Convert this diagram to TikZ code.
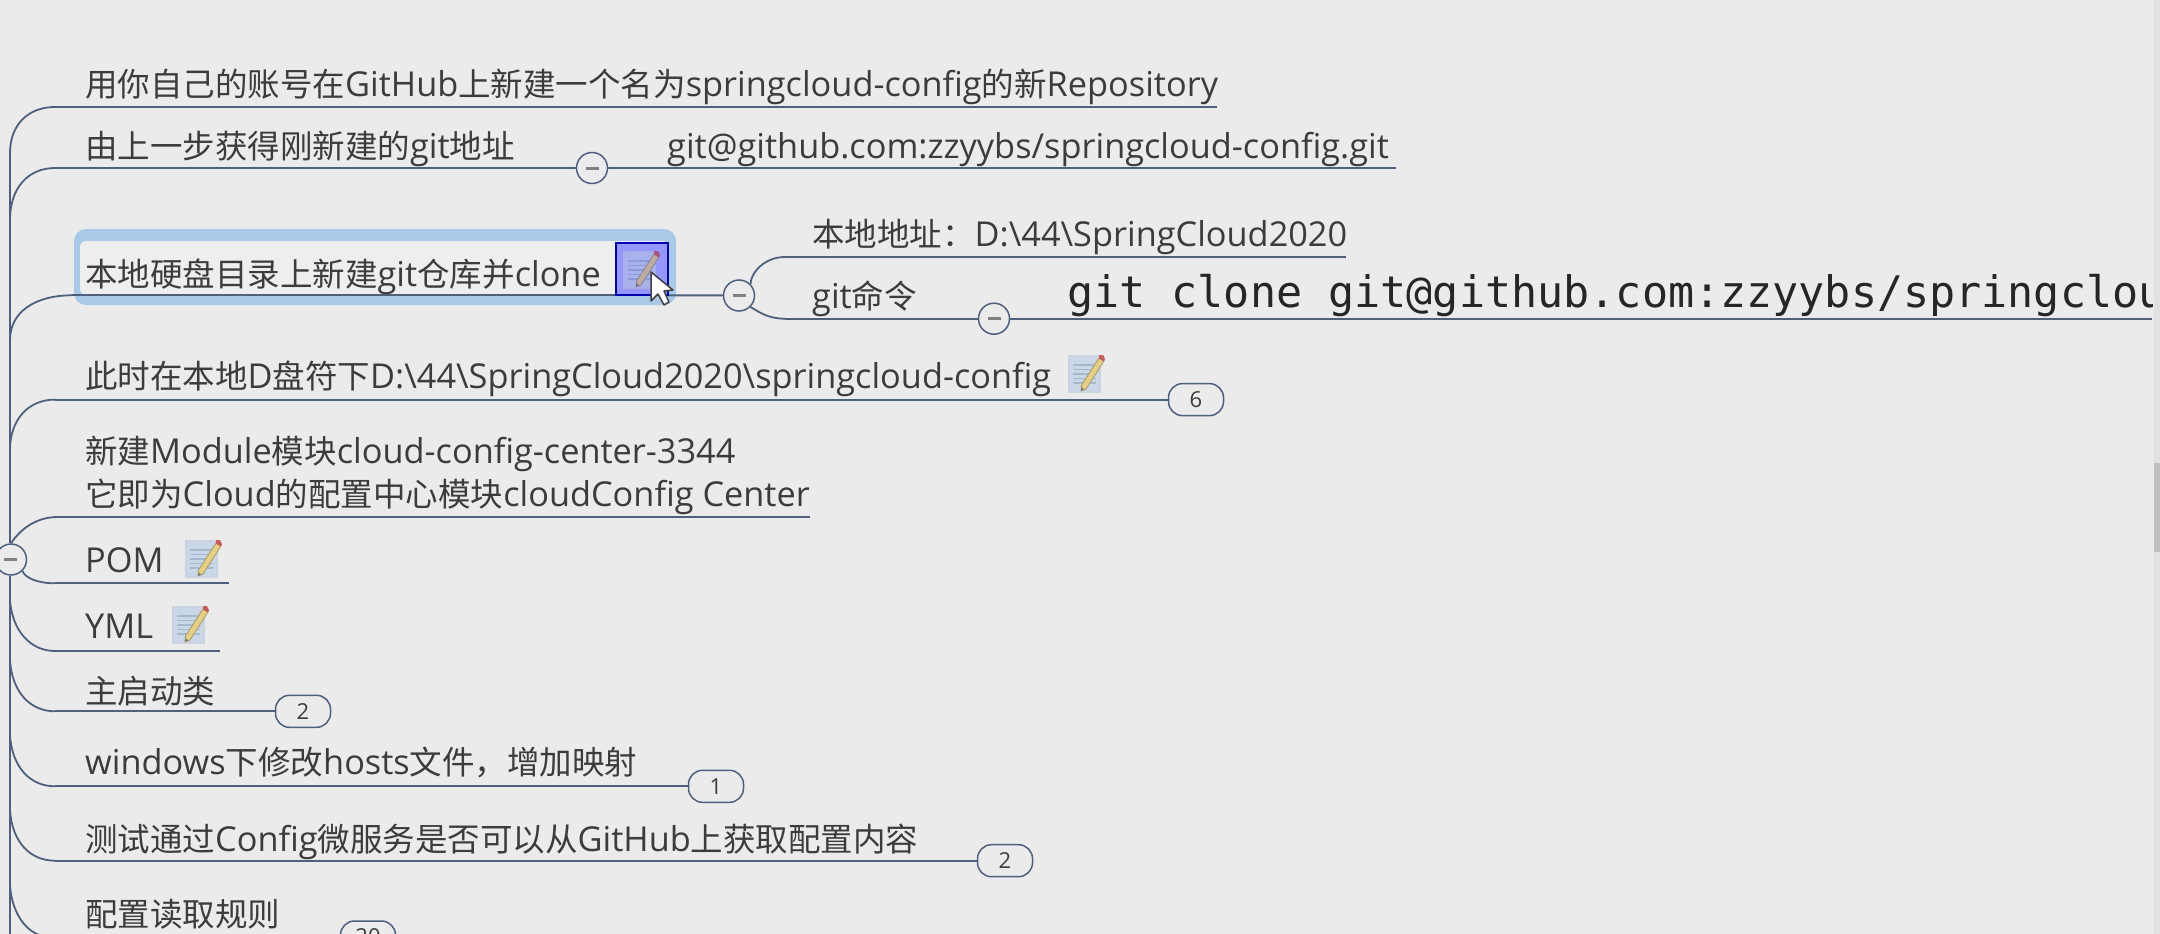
\documentclass[tikz,border=0pt]{standalone}
\usepackage{fontspec}
\setmainfont{Open Sans}
\newfontfamily\cjk[Scale=0.9475]{Noto Sans CJK SC}
\newfontfamily\mono{DejaVu Sans Mono}
\newcommand{\zh}[1]{{\cjk #1}}
\definecolor{bg}{HTML}{EBEBEB}
\definecolor{ln}{HTML}{4F5F7E}
\definecolor{tx}{HTML}{3C3C3C}
\definecolor{hl}{HTML}{A9C9E8}
\definecolor{paper}{HTML}{C9D7E8}
\definecolor{paperedge}{HTML}{CBD3DE}
\definecolor{rule}{HTML}{A6B8D0}
\definecolor{pencil}{HTML}{E4CF82}
\definecolor{penciledge}{HTML}{A89A68}
\definecolor{pencildark}{HTML}{8A8270}
\definecolor{tip}{HTML}{C85A5A}
\definecolor{track}{HTML}{E1E1E1}
\definecolor{thumb}{HTML}{BFBFBF}
\tikzset{
  topic/.style={anchor=base west,inner sep=0pt,text=tx,font=\fontsize{34.3}{41}\selectfont},
  link/.style={draw=ln,line width=2pt},
  fork/.style={draw=ln,line width=1.8pt},
  fold/.style={circle,draw=ln,fill=bg,line width=1.5pt,minimum size=31pt,inner sep=0pt},
  count/.style={draw=ln,fill=bg,line width=1.5pt,rounded corners=14pt,minimum width=55pt,minimum height=32pt,inner sep=0pt,text=tx,font=\fontsize{22}{22}\selectfont},
  note/.pic={
    \fill[paper] (0,2) rectangle (33,40);
    \draw[paperedge,line width=2.5pt] (1,3) rectangle (32,39);
    \foreach \yy in {12,16.5,21,25.5,30}{\draw[rule,line width=1.3pt] (5,\yy) -- (28,\yy);}
    \fill[pencil,draw=penciledge,line width=.8pt,line join=round] (31,5) -- (36,8) -- (18,36) -- (13,38) -- (13.5,32) -- cycle;
    \fill[pencildark] (13,38) -- (13.3,34) -- (16.5,36.5) -- cycle;
    \fill[tip] (31,2) -- (35,2) -- (37,6) -- (36,8.5) -- (31,5.5) -- cycle;
  },
}
\begin{document}
\begin{tikzpicture}[x=1pt,y=-1pt]
\useasboundingbox (0,0) rectangle (2160,934);
\clip (0,0) rectangle (2160,934);
\fill[bg] (0,0) rectangle (2160,934);

% selection highlight
\fill[hl,rounded corners=12pt] (74,229) rectangle (676,305);
\fill[bg!85!white,rounded corners=6pt] (80,241) rectangle (668,295);

% named junctions
\coordinate (t0) at (10,153);
\coordinate (t9) at (10,940);
\coordinate (a1) at (55,107); \coordinate (a2) at (55,168); \coordinate (a3) at (72,295.3);
\coordinate (a4) at (55,399.6); \coordinate (a5) at (58,517); \coordinate (a6) at (55,583.3);
\coordinate (a7) at (55,651); \coordinate (a8) at (55,711.3); \coordinate (a9) at (55,786.3);
\coordinate (a10) at (55,860.7); \coordinate (a11) at (50,937);
\coordinate (e1) at (1217,107); \coordinate (e2) at (1396,168); \coordinate (e3) at (668,295.3);
\coordinate (e4) at (1346,257); \coordinate (e5) at (2152,318.7);
\coordinate (e6) at (810,517); \coordinate (e7) at (229,583.3); \coordinate (e8) at (220,651);
\coordinate (s1) at (785,257); \coordinate (s2) at (785,318.7);

% fold and count nodes
\node[fold] (f0) at (11,559.5) {\textcolor{gray}{\rule{13pt}{3pt}}};
\node[fold] (f2) at (592,168) {\textcolor{gray}{\rule{13pt}{3pt}}};
\node[fold] (f3) at (739,295.5) {\textcolor{gray}{\rule{13pt}{3pt}}};
\node[fold] (f4) at (994,318.7) {\textcolor{gray}{\rule{13pt}{3pt}}};
\node[count] (c4) at (1196,399.6) {6};
\node[count] (c8) at (303,711.3) {2};
\node[count] (c9) at (716,786.3) {1};
\node[count] (c10) at (1005,860.7) {2};
\node[count] (c11) at (368,937) {20};

% connectors
\draw[fork] (t0) -- (f0.north -| t0);
\draw[fork] (f0.south -| t0) -- (t9);
\draw[fork] (10,153) .. controls (10,125) and (28,107) .. (a1);
\draw[fork] (10,220) .. controls (10,188) and (28,168) .. (a2);
\draw[fork] (10,340) .. controls (10,312) and (35,295.3) .. (a3);
\draw[fork] (10,450) .. controls (10,420) and (28,399.6) .. (a4);
\draw[fork] (f0.north) .. controls (20,530) and (35,517) .. (a5);
\draw[fork] (f0.south east) .. controls (25,578) and (38,583.3) .. (a6);
\draw[fork] (10,600) .. controls (12,630) and (30,651) .. (a7);
\draw[fork] (10,660) .. controls (12,692) and (30,711.3) .. (a8);
\draw[fork] (10,735) .. controls (12,767) and (30,786.3) .. (a9);
\draw[fork] (10,810) .. controls (12,842) and (30,860.7) .. (a10);
\draw[fork] (10,885) .. controls (12,917) and (30,937) .. (a11);
\draw[link] (a1) -- (e1);
\draw[link] (a2) -- (f2);
\draw[link] (f2) -- (e2);
\draw[link] (a3) -- (e3);
\draw[link] (e3) -- (f3);
\draw[fork] (f3.north east) .. controls (751,272) and (765,257) .. (s1);
\draw[fork] (f3.south east) .. controls (759,312) and (768,318.7) .. (s2);
\draw[link] (s1) -- (e4);
\draw[link] (s2) -- (f4);
\draw[link] (f4) -- (e5);
\draw[link] (a4) -- (c4);
\draw[link] (a5) -- (e6);
\draw[link] (a6) -- (e7);
\draw[link] (a7) -- (e8);
\draw[link] (a8) -- (c8);
\draw[link] (a9) -- (c9);
\draw[link] (a10) -- (c10);
\draw[link] (a11) -- (c11);

% topics
\node[topic] (n1) at (85,96.3) {\zh{用你自己的账号在}GitHub\zh{上新建一个名为}springcloud-config\zh{的新}Repository};
\node[topic] (n2) at (85,158) {\zh{由上一步获得刚新建的}git\zh{地址}};
\node[topic] (n2a) at (667,158) {git@github.com:zzyybs/springcloud-config.git};
\node[topic] (n3) at (85,286.3) {\zh{本地硬盘目录上新建}git\zh{仓库并}clone};
\node[topic] (n3a) at (812,246.3) {\zh{本地地址：}D:\textbackslash 44\textbackslash SpringCloud2020};
\node[topic] (n3b) at (812,308) {git\zh{命令}};
\begin{scope}
\clip (1000,260) rectangle (2152,330);
\node[topic,font=\mono\fontsize{43.4}{50}\selectfont,text=black!85] (n3c) at (1067,307) {git clone git@github.com:zzyybs/springcloud-config.git};
\end{scope}
\node[topic] (n4) at (85,388.3) {\zh{此时在本地}D\zh{盘符下}D:\textbackslash 44\textbackslash SpringCloud2020\textbackslash springcloud-config};
\node[topic] (n5a) at (85,463) {\zh{新建}Module\zh{模块}cloud-config-center-3344};
\node[topic] (n5b) at (85,506.3) {\zh{它即为}Cloud\zh{的配置中心模块}cloudConfig Center};
\node[topic] (n6) at (85,572) {POM};
\node[topic] (n7) at (85,638.3) {YML};
\node[topic] (n8) at (85,703) {\zh{主启动类}};
\node[topic] (n9) at (85,774.3) {windows\zh{下修改}hosts\zh{文件，增加映射}};
\node[topic] (n10) at (85,851.3) {\zh{测试通过}Config\zh{微服务是否可以从}GitHub\zh{上获取配置内容}};
\node[topic] (n11) at (85,926.3) {\zh{配置读取规则}};

% note icons
\pic at (1068,353) {note};
\pic at (185,538) {note};
\pic at (172,604) {note};
\fill[blue!30!white] (616,243) rectangle (668,295);
\pic at (623,249) {note};
\fill[blue!75!white,opacity=.24] (616,243) rectangle (668,295);
\draw[blue!70!black,line width=1.5pt] (616,243) rectangle (668,295);

% cursor
\draw[black!75,fill=white,line width=1.5pt,line join=round] (651,272) -- (651,301) -- (658,294) -- (664,305) -- (669,302) -- (664,291) -- (673,290) -- cycle;

% scroll bar
\fill[track] (2154,0) rectangle (2160,934);
\fill[thumb] (2154,463) rectangle (2160,552);
\end{tikzpicture}
\end{document}
